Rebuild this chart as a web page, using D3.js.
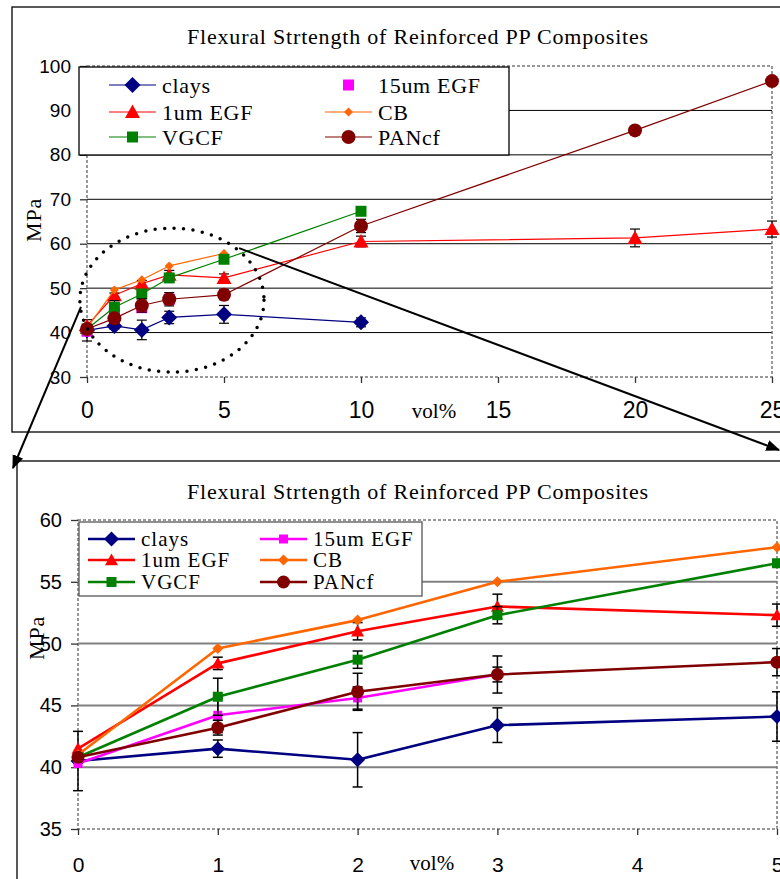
<!DOCTYPE html>
<html>
<head>
<meta charset="utf-8">
<script src="https://cdn.jsdelivr.net/npm/d3@7"></script>
<style>
  html, body { margin: 0; padding: 0; background: #fff; }
  svg { display: block; }
</style>
</head>
<body>
<svg id="chart" width="780" height="879"></svg>
<script>
// Values
const titleText = 'Flexural Strtength of Reinforced PP Composites';

const claysX = [0, 1, 2, 3, 5, 10];
const claysY = [40.5, 41.5, 40.6, 43.4, 44.1, 42.3];
const claysErr = [2.4, 0.7, 2.2, 1.4, 2.0, 1.0];

const egf15X = [0, 1, 2, 3];
const egf15Y = [40.3, 44.2, 45.6, 47.5];
const egf15Err = [0, 1.4, 0.9, 0.6];

const egf1X = [0, 1, 2, 3, 5, 10, 20, 25];
const egf1Y = [41.5, 48.4, 51.0, 53.0, 52.3, 60.5, 61.3, 63.3];
const egf1Err = [0, 0.5, 0.7, 1.0, 0.9, 1.2, 2.0, 1.8];

const cbX = [0, 1, 2, 3, 5];
const cbY = [41.0, 49.6, 51.9, 55.0, 57.8];

const vgcfX = [0, 1, 2, 3, 5, 10];
const vgcfY = [40.8, 45.7, 48.7, 52.3, 56.5, 67.3];
const vgcfErr = [0, 1.5, 0.7, 0.7, 0, 0];

const pancfX = [0, 1, 2, 3, 5, 10, 20, 25];
const pancfY = [40.8, 43.2, 46.1, 47.5, 48.5, 64.0, 85.5, 96.6];
const pancfErr = [0, 0.6, 1.5, 1.5, 1.1, 1.5, 0, 0];

const topXTicks = [0, 5, 10, 15, 20, 25];
const topYTicks = [30, 40, 50, 60, 70, 80, 90, 100];
const bottomXTicks = [0, 1, 2, 3, 4, 5];
const bottomYTicks = [35, 40, 45, 50, 55, 60];

const series = [
  { name: 'clays', xs: claysX, ys: claysY, errs: claysErr, color: '#000080', shape: 'diamond' },
  { name: '15um EGF', xs: egf15X, ys: egf15Y, errs: egf15Err, color: '#ff00ff', shape: 'square' },
  { name: '1um EGF', xs: egf1X, ys: egf1Y, errs: egf1Err, color: '#ff0000', shape: 'triangle' },
  { name: 'CB', xs: cbX, ys: cbY, errs: null, color: '#ff6600', shape: 'smalldiamond' },
  { name: 'VGCF', xs: vgcfX, ys: vgcfY, errs: vgcfErr, color: '#008000', shape: 'square' },
  { name: 'PANcf', xs: pancfX, ys: pancfY, errs: pancfErr, color: '#800000', shape: 'circle' }
];

const svg = d3.select('#chart');
const serif = '"Liberation Serif", "Times New Roman", serif';
const sans = '"Liberation Sans", Arial, sans-serif';

function markerPath(shape, s) {
  if (shape === 'diamond' || shape === 'smalldiamond') {
    return `M0,${-s}L${s},0L0,${s}L${-s},0Z`;
  }
  if (shape === 'square') return `M${-s},${-s}h${2 * s}v${2 * s}h${-2 * s}Z`;
  if (shape === 'triangle') return `M0,${-s}L${s},${s * 0.8}L${-s},${s * 0.8}Z`;
  // circle
  return `M${s},0A${s},${s} 0 1,1 ${-s},0A${s},${s} 0 1,1 ${s},0Z`;
}

function drawChart(cfg) {
  const g = svg.append('g');

  // outer chart box
  g.append('rect')
    .attr('x', cfg.box[0]).attr('y', cfg.box[1])
    .attr('width', cfg.box[2]).attr('height', cfg.box[3])
    .attr('fill', '#fff').attr('stroke', '#000').attr('stroke-width', 1.3);

  const x = d3.scaleLinear().domain(cfg.xDomain).range([cfg.plot[0], cfg.plot[2]]);
  const y = d3.scaleLinear().domain(cfg.yDomain).range([cfg.plot[3], cfg.plot[1]]);

  // title
  g.append('text')
    .attr('x', cfg.titleX).attr('y', cfg.titleY)
    .attr('text-anchor', 'middle')
    .attr('font-family', serif).attr('font-size', 22)
    .attr('letter-spacing', 0.8)
    .text(titleText);

  // gridlines
  g.append('g').selectAll('line')
    .data(cfg.yTicks.filter(v => v > cfg.yDomain[0] && v < cfg.yDomain[1]))
    .enter().append('line')
    .attr('x1', cfg.plot[0]).attr('x2', cfg.plot[2])
    .attr('y1', d => y(d)).attr('y2', d => y(d))
    .attr('stroke', cfg.gridColor).attr('stroke-width', cfg.gridWidth);

  // dashed plot area border
  g.append('rect')
    .attr('x', cfg.plot[0]).attr('y', cfg.plot[1])
    .attr('width', cfg.plot[2] - cfg.plot[0]).attr('height', cfg.plot[3] - cfg.plot[1])
    .attr('fill', 'none').attr('stroke', '#777')
    .attr('stroke-width', 1.5).attr('stroke-dasharray', '3,2');

  // y axis ticks + labels
  const yAxis = d3.axisLeft(y).tickValues(cfg.yTicks).tickSize(7).tickPadding(9)
    .tickFormat(d3.format('d'));
  const ya = g.append('g').attr('transform', `translate(${cfg.plot[0]},0)`).call(yAxis);
  ya.select('.domain').remove();
  ya.selectAll('.tick line').attr('stroke', '#333').attr('stroke-width', 1.3);
  ya.selectAll('.tick text').attr('font-family', sans).attr('font-size', cfg.yFont).attr('fill', '#000');

  // x axis ticks + labels
  const xAxis = d3.axisBottom(x).tickValues(cfg.xTicks).tickSize(6).tickPadding(cfg.xPad)
    .tickFormat(d3.format('d'));
  const xa = g.append('g').attr('transform', `translate(0,${cfg.plot[3]})`).call(xAxis);
  xa.select('.domain').remove();
  xa.selectAll('.tick line').attr('stroke', '#333').attr('stroke-width', 1.3);
  xa.selectAll('.tick text').attr('font-family', sans).attr('font-size', cfg.xFont).attr('fill', '#000');

  // axis titles
  g.append('text')
    .attr('transform', `translate(${cfg.yTitle[0]},${cfg.yTitle[1]}) rotate(-90)`)
    .attr('text-anchor', 'middle').attr('dominant-baseline', 'central')
    .attr('font-family', serif).attr('font-size', 22).attr('letter-spacing', 0.8)
    .text('MPa');
  g.append('text')
    .attr('x', cfg.xTitle[0]).attr('y', cfg.xTitle[1])
    .attr('text-anchor', 'middle').attr('dominant-baseline', 'central')
    .attr('font-family', serif).attr('font-size', 21)
    .text('vol%');

  // series
  const line = d3.line().x(d => x(d.x)).y(d => y(d.y));
  series.forEach(s => {
    const pts = s.xs.map((v, i) => ({ x: v, y: s.ys[i], e: s.errs ? s.errs[i] : 0 }))
      .filter(p => p.x <= cfg.xDomain[1]);
    const sg = g.append('g');
    if (!(cfg.noLine && cfg.noLine.includes(s.name))) {
      sg.append('path').datum(pts)
        .attr('d', line)
        .attr('fill', 'none').attr('stroke', s.color)
        .attr('stroke-width', cfg.lineWidth).attr('stroke-linejoin', 'round');
    }
    const eb = sg.append('g').selectAll('g')
      .data(pts.filter(p => p.e > 0))
      .enter().append('g');
    eb.append('line')
      .attr('x1', d => x(d.x)).attr('x2', d => x(d.x))
      .attr('y1', d => y(d.y - d.e)).attr('y2', d => y(d.y + d.e))
      .attr('stroke', '#000').attr('stroke-width', cfg.errWidth);
    [-1, 1].forEach(sign => {
      eb.append('line')
        .attr('x1', d => x(d.x) - 5).attr('x2', d => x(d.x) + 5)
        .attr('y1', d => y(d.y + sign * d.e)).attr('y2', d => y(d.y + sign * d.e))
        .attr('stroke', '#000').attr('stroke-width', cfg.errWidth);
    });
    sg.append('g').selectAll('path')
      .data(pts)
      .enter().append('path')
      .attr('transform', d => `translate(${x(d.x)},${y(d.y)})`)
      .attr('d', markerPath(s.shape, cfg.markerSize[s.name]))
      .attr('fill', s.color);
  });

  // legend
  const lg = g.append('g');
  lg.append('rect')
    .attr('x', cfg.legend[0]).attr('y', cfg.legend[1])
    .attr('width', cfg.legend[2] - cfg.legend[0]).attr('height', cfg.legend[3] - cfg.legend[1])
    .attr('fill', '#fff').attr('stroke', cfg.legendStroke).attr('stroke-width', 1.3);
  series.forEach((s, i) => {
    const col = i % 2, row = Math.floor(i / 2);
    const lx = cfg.legendCols[col];
    const ly = cfg.legendRows[row];
    if (!(cfg.noLine && cfg.noLine.includes(s.name))) {
      lg.append('line')
        .attr('x1', lx).attr('x2', lx + cfg.sampleLen)
        .attr('y1', ly).attr('y2', ly)
        .attr('stroke', s.color).attr('stroke-width', cfg.lineWidth);
    }
    lg.append('path')
      .attr('transform', `translate(${lx + cfg.sampleLen / 2},${ly})`)
      .attr('d', markerPath(s.shape, cfg.markerSize[s.name]))
      .attr('fill', s.color);
    lg.append('text')
      .attr('x', lx + cfg.sampleLen + 6).attr('y', ly)
      .attr('dominant-baseline', 'central')
      .attr('font-family', serif).attr('font-size', cfg.legendFont)
      .attr('letter-spacing', cfg.legendSpacing)
      .text(s.name);
  });

  return { x, y };
}

const topChart = drawChart({
  box: [12, 7, 820, 425],
  plot: [87, 66, 772, 377],
  xDomain: [0, 25], yDomain: [30, 100],
  xTicks: topXTicks, yTicks: topYTicks,
  titleX: 418, titleY: 44,
  gridColor: '#000', gridWidth: 1,
  yFont: 19, xFont: 23, xPad: 19,
  yTitle: [33, 220], xTitle: [434, 411],
  lineWidth: 1.2, errWidth: 1.2,
  noLine: ['15um EGF'],
  markerSize: { 'clays': 8, '15um EGF': 5.5, '1um EGF': 7.5, 'CB': 4.5, 'VGCF': 5.5, 'PANcf': 7 },
  legend: [79, 67, 509, 155],
  legendStroke: '#000',
  legendCols: [109, 325], legendRows: [85, 112, 137],
  legendFont: 22, legendSpacing: 0.7,
  sampleLen: 47
});

const bottomChart = drawChart({
  box: [17, 461, 820, 500],
  plot: [78, 520, 777, 829],
  xDomain: [0, 5], yDomain: [35, 60],
  xTicks: bottomXTicks, yTicks: bottomYTicks,
  titleX: 418, titleY: 499,
  gridColor: '#808080', gridWidth: 2,
  yFont: 20, xFont: 21, xPad: 22,
  yTitle: [36, 638], xTitle: [432, 863],
  lineWidth: 2.6, errWidth: 1.5,
  markerSize: { 'clays': 7.5, '15um EGF': 4.5, '1um EGF': 6.5, 'CB': 5.5, 'VGCF': 5, 'PANcf': 6.5 },
  legend: [79, 522, 422, 596],
  legendStroke: '#555',
  legendCols: [88, 260], legendRows: [539, 560, 582],
  legendFont: 21, legendSpacing: 1,
  sampleLen: 47
});

// dotted ellipse around the low-loading region of the top chart
const ell = { cx: 3.1, cy: 47.3, rx: 3.36, ry: 16.2 };
svg.append('ellipse')
  .attr('cx', topChart.x(ell.cx)).attr('cy', topChart.y(ell.cy))
  .attr('rx', topChart.x(ell.rx) - topChart.x(0)).attr('ry', topChart.y(0) - topChart.y(ell.ry))
  .attr('fill', 'none').attr('stroke', '#000')
  .attr('stroke-width', 3.5).attr('stroke-linecap', 'round')
  .attr('stroke-dasharray', '0,9.5');

// zoom arrows from the ellipse to the lower chart
const arrows = [
  { from: [topChart.x(-0.22), topChart.y(45.8)], to: [13, 468] },
  { from: [topChart.x(5.55), topChart.y(59.0)], to: [779, 450] }
];
svg.append('defs').append('marker')
  .attr('id', 'arrowhead')
  .attr('viewBox', '0 0 10 10').attr('refX', 9).attr('refY', 5)
  .attr('markerWidth', 7).attr('markerHeight', 7).attr('markerUnits', 'strokeWidth')
  .attr('orient', 'auto')
  .append('path').attr('d', 'M0,1L10,5L0,9Z').attr('fill', '#000');
svg.append('g').selectAll('line')
  .data(arrows)
  .enter().append('line')
  .attr('x1', d => d.from[0]).attr('y1', d => d.from[1])
  .attr('x2', d => d.to[0]).attr('y2', d => d.to[1])
  .attr('stroke', '#000').attr('stroke-width', 2)
  .attr('marker-end', 'url(#arrowhead)');
</script>
</body>
</html>
